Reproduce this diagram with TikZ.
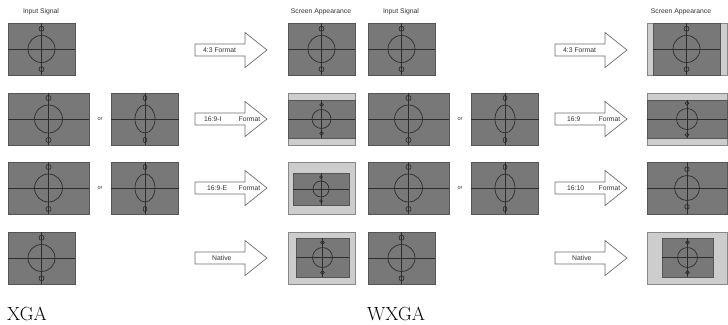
\documentclass[tikz,border=0pt]{standalone}
\usepackage{fontspec}
\usepackage{tikz}
\usetikzlibrary{calc}
\newfontfamily\lblfont{Liberation Sans}
\definecolor{ScrFill}{RGB}{120,120,120}
\definecolor{ScrEdge}{RGB}{85,85,85}
\definecolor{BarFill}{RGB}{205,205,205}
\definecolor{PatLine}{RGB}{45,45,45}
\definecolor{ArrEdge}{RGB}{110,110,110}

% test pattern inside a screen node: cross, circle and two small marks
\newcommand\tpat[3]{%
  \draw[pat] (#1.west) -- (#1.east) (#1.north) -- (#1.south);
  \draw[pat] (#1.center) ellipse [x radius=#2pt, y radius=#3pt];
  \draw[pat] ($(#1.center)+(0,{-1.5*#3})$) ellipse [x radius={#2pt/5.4}, y radius={#3pt/5.4}];
  \draw[pat] ($(#1.center)+(0,{1.5*#3})$) ellipse [x radius={#2pt/5.4}, y radius={#3pt/5.4}];
}

\begin{document}
\begin{tikzpicture}[
  x=1pt, y=-1pt,
  scr/.style={
    rectangle,
    draw=ScrEdge,
    fill=ScrFill,
    line width=0.6pt,
    inner sep=0pt,
    minimum width=67pt,
    minimum height=52pt
  },
  wide/.style={scr, minimum width=81pt},
  bar/.style={scr, fill=BarFill, draw=ScrEdge!70},
  pat/.style={draw=PatLine, line width=0.7pt},
  fmt/.style={draw=ArrEdge, fill=white, line width=0.7pt},
  lbl/.style={font=\lblfont\fontsize{6.8}{8}\selectfont, text=black!80, inner sep=0pt}
]
\useasboundingbox (0,0) rectangle (728,324);

% input signals and format arrows, same for both panels
\foreach \p/\ox in {x/0, w/360} {
  \node[lbl] (\p-hin) at (41+\ox,12) {Input Signal};
  \node[lbl] (\p-hout) at (321+\ox,12) {Screen Appearance};

  \node[scr] (\p-in1) at (41.5+\ox,49) {};
  \tpat{\p-in1}{13.5}{13.5}
  \foreach \r/\c in {2/119, 3/188} {
    \node[wide] (\p-in\r a) at (48.5+\ox,\c) {};
    \tpat{\p-in\r a}{14}{14}
    \node[lbl, font=\lblfont\fontsize{5.5}{6}\selectfont] (\p-or\r) at (100+\ox,\c) {or};
    \node[scr] (\p-in\r b) at (145+\ox,\c) {};
    \tpat{\p-in\r b}{10}{14}
  }
  \node[scr] (\p-in4) at (41.5+\ox,258) {};
  \tpat{\p-in4}{13.5}{13.5}

  \foreach \r/\c in {1/50, 2/119, 3/188, 4/258} {
    \coordinate (\p-a\r) at (195+\ox,\c);
    \draw[fmt] (\p-a\r) ++(0,-6) -- ++(50,0) -- ++(0,-11.5) -- ++(22,17.5)
      -- ++(-22,17.5) -- ++(0,-11.5) -- ++(-50,0) -- cycle;
  }
}

% arrow labels
\node[lbl, anchor=west] (x-t1) at ($(x-a1)+(8,0)$) {4:3 Format};
\node[lbl, anchor=west, text width=56pt] (x-t2) at ($(x-a2)+(9,0)$) {16:9-I\hfill Format};
\node[lbl, anchor=west, text width=53pt] (x-t3) at ($(x-a3)+(12,0)$) {16:9-E\hfill Format};
\node[lbl, anchor=west] (x-t4) at ($(x-a4)+(17,0)$) {Native};
\node[lbl, anchor=west] (w-t1) at ($(w-a1)+(8,0)$) {4:3 Format};
\node[lbl, anchor=west, text width=53pt] (w-t2) at ($(w-a2)+(12,0)$) {16:9\hfill Format};
\node[lbl, anchor=west, text width=53pt] (w-t3) at ($(w-a3)+(12,0)$) {16:10\hfill Format};
\node[lbl, anchor=west] (w-t4) at ($(w-a4)+(17,0)$) {Native};

% XGA screen appearance
\node[scr] (x-out1) at (321.5,49) {};
\tpat{x-out1}{13.5}{13.5}
\node[bar] (x-out2) at (321.5,119) {};
\node[scr, minimum height=38pt] (x-out2i) at (321.5,119) {};
\tpat{x-out2i}{9.5}{9.5}
\node[bar] (x-out3) at (321.5,188) {};
\node[scr, minimum width=56pt, minimum height=32pt] (x-out3i) at (321,189) {};
\tpat{x-out3i}{8}{8}
\node[bar] (x-out4) at (321.5,258) {};
\node[scr, minimum width=53pt, minimum height=39pt] (x-out4i) at (322.5,257.5) {};
\tpat{x-out4i}{10}{10}

% WXGA screen appearance
\node[bar, minimum width=80pt] (w-out1) at (687,49) {};
\node[scr, minimum width=67pt] (w-out1i) at (686.5,49) {};
\tpat{w-out1i}{13.5}{13.5}
\node[bar, minimum width=80pt] (w-out2) at (687,119) {};
\node[scr, minimum width=80pt, minimum height=38pt] (w-out2i) at (687,119) {};
\tpat{w-out2i}{10.5}{10.5}
\node[scr, minimum width=80pt] (w-out3) at (687,188) {};
\tpat{w-out3}{12.5}{12.5}
\node[bar, minimum width=80pt] (w-out4) at (687,258) {};
\node[scr, minimum width=51pt, minimum height=39pt] (w-out4i) at (687.5,257.5) {};
\tpat{w-out4i}{10}{10}

\node[anchor=base west, font=\fontsize{19}{21}\selectfont, inner sep=0pt] (xga) at (7,320) {XGA};
\node[anchor=base west, font=\fontsize{19}{21}\selectfont, inner sep=0pt] (wxga) at (367,320) {WXGA};
\end{tikzpicture}
\end{document}
